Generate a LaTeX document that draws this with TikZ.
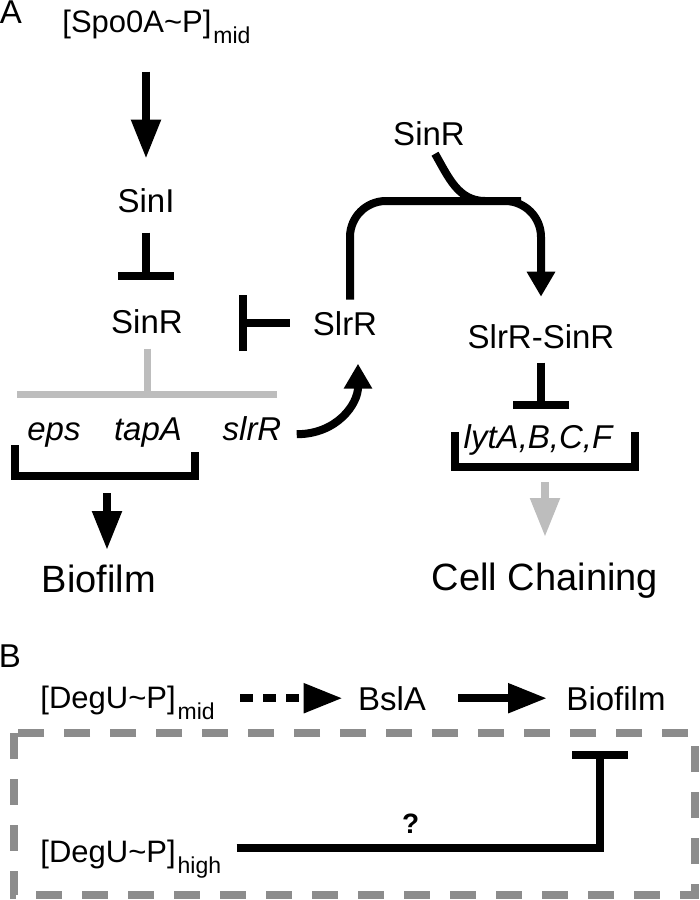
\documentclass[tikz,border=0pt]{standalone}
\usepackage{fontspec}
\setmainfont{Liberation Sans}
\usetikzlibrary{arrows.meta}
\definecolor{genegray}{HTML}{BDBDBD}
\definecolor{boxgray}{HTML}{8C8C8C}
\newcommand{\lowtxt}[1]{\hspace{1pt}\raisebox{-5.5pt}{\fontsize{11.5}{12}\selectfont #1}}

\begin{document}
\begin{tikzpicture}[x=0.5pt,y=-0.5pt,
    act/.style={line width=4pt,-{Triangle[length=19.5pt,width=14pt]}},
    actc/.style={line width=4pt,-{Triangle[length=12.5pt,width=13.5pt]}},
    actg/.style={act,draw=genegray},
    actd/.style={act,dash pattern=on 6.5pt off 5pt},
    inh/.style={line width=4pt,-{Bar[width=28pt]}},
    inhg/.style={line width=3.5pt,draw=genegray,-{Bar[width=130pt]}},
    brk/.style={line width=4pt},
    boxd/.style={line width=4pt,draw=boxgray,dash pattern=on 13pt off 10pt},
    gene/.style={font=\fontsize{16.5}{18}\selectfont\itshape},
    big/.style={font=\fontsize{19}{22}\selectfont},
    conc/.style={anchor=base west,font=\fontsize{15.5}{18}\selectfont}]

        \useasboundingbox (0,0) rectangle (700,900);

        \begin{scope}[every node/.style={inner sep=0pt, anchor=base, font=\fontsize{16.5}{18}\selectfont}]
          \node (17) at (11,23)  {A};
          \node[conc] (1) at (62,32)  {[Spo0A\textasciitilde P]\lowtxt{mid}};
          \node (2)  at (146,212) {SinI};
          \node (3)  at (147,333) {SinR};
          \node (4)  at (345,335) {SlrR};
          \node (5)  at (429,145) {SinR};
          \node (6)  at (541,348) {SlrR-SinR};
          \node[gene] (7)  at (54,440)  {eps};
          \node[gene] (8)  at (148,440) {tapA};
          \node[gene] (9)  at (252,440) {slrR};
          \node[gene] (10) at (538,448) {lytA,B,C,F};
          \node[big] (11) at (99,592)  {Biofilm};
          \node[big] (12) at (545,590) {Cell Chaining};
          \node (18) at (10,667)  {B};
          \node[conc] (13) at (40,708)  {[DegU\textasciitilde P]\lowtxt{mid}};
          \node (14) at (392,710) {BslA};
          \node (15) at (616,710) {Biofilm};
          \node[conc] (16) at (40,862)  {[DegU\textasciitilde P]\lowtxt{high}};
        \end{scope}

        \coordinate (c1) at (107,480);
        \coordinate (c3) at (485,201);
        \coordinate (c4) at (545,471);

        \draw[brk] (15,445) |- (195,476) -- (195,452);
        \draw[brk] (455,432) |- (635,467) -- (635,432);

        \begin{scope}[every edge/.style={draw}]
          \path (1.south -| 2.north) edge[act, shorten <=14pt, shorten >=14.5pt] (2.north);
          \path (2.south) edge[inh, shorten <=10pt, shorten >=14.5pt] (2.south |- 3.north);
          \path (4.west) edge[inh, shorten <=11.5pt, shorten >=28pt] (4.west -| 3.east);
          \path (3.south) edge[inhg, shorten <=7.5pt, shorten >=9.5pt] (3.south |- 8.north);
          \path (c1) edge[act, shorten <=6.5pt, shorten >=7pt] (c1 |- 11.north);
          \path (6.south) edge[inh, shorten <=7pt, shorten >=7.5pt] (6.south |- 10.north);
          \path (c4) edge[actg, shorten <=5.5pt, shorten >=12.5pt] (c4 |- 12.north);
          \path (14.west -| 13.east) edge[actd, shorten <=12.5pt, shorten >=7.5pt] (14.west);
          \path (14.east) edge[act, shorten <=16pt, shorten >=9.5pt] (15.west);
        \end{scope}

        \draw[actc] ([xshift=7.5pt,yshift=-3pt]9.east) to[out=0,in=-90,looseness=1.1] ([xshift=6.5pt,yshift=-14pt]4.south);
        \draw[actc, rounded corners=18pt] ([xshift=2.5pt,yshift=5.5pt]4.north) |- (c3) -| ([yshift=13.5pt]6.north);
        \draw[line width=4pt] ([xshift=3pt,yshift=-4pt]5.south) to[out=-60,in=180] (c3);

        \draw[inh, shorten <=7.5pt, shorten >=20pt] ([yshift=7pt]16.base east) -| ([xshift=-8pt]15.south)
          node[pos=0.25, above=5.5pt, inner sep=0pt, font=\fontsize{14}{16}\selectfont\bfseries] (19) {?};

        \draw[boxd] (14,733) rectangle (695,895);

      \end{tikzpicture}
\end{document}
